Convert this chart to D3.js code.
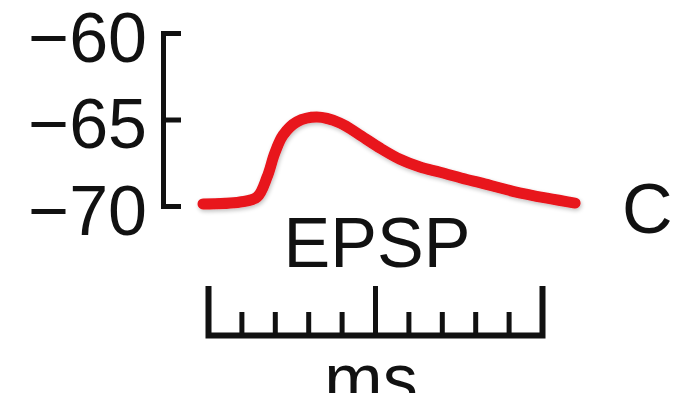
<!DOCTYPE html>
<meta charset="utf-8">
<svg width="686" height="406"></svg>
<script src="https://d3js.org/d3.v7.min.js"></script>
<style>
  body {
    margin: 0;
    background: #fff;
  }
  svg text {
    font-family: "Liberation Sans", Arial, sans-serif;
    fill: #111;
  }
  .axis path, .axis line {
    stroke: #111;
    fill: none;
  }
</style>
<script>
// membrane potential scale (mV)
var voltTicks = [-60, -65, -70];
// time scale bar ticks (ms)
var timeTicks = [0, 1, 2, 3, 4, 5, 6, 7, 8, 9, 10];
// EPSP trace
var traceTime = [-0.15, 0.96, 1.47, 1.77, 2.0, 2.25, 2.66, 3.26, 3.95, 4.55, 5.15, 5.75, 6.35, 6.95, 7.75, 8.14, 9.13, 10.15, 10.99];
var traceVolt = [-69.88, -69.77, -69.48, -68.32, -66.94, -65.9, -65.14, -64.86, -65.2, -65.9, -66.65, -67.3, -67.75, -68.05, -68.47, -68.65, -69.15, -69.55, -69.83];

var svg = d3.select("svg");

var x = d3.scaleLinear().domain([0, 10]).range([208, 542]);
var y = d3.scaleLinear().domain([-70, -60]).range([206, 33]);

var defs = svg.append("defs");
var blur = defs.append("filter").attr("id", "soft")
    .attr("x", "-10%").attr("y", "-30%").attr("width", "120%").attr("height", "160%");
blur.append("feGaussianBlur").attr("in", "SourceAlpha").attr("stdDeviation", 2).attr("result", "b");
blur.append("feOffset").attr("in", "b").attr("dx", 1).attr("dy", 2).attr("result", "o");
blur.append("feComponentTransfer").attr("in", "o").attr("result", "s")
  .append("feFuncA").attr("type", "linear").attr("slope", 0.25);
var merge = blur.append("feMerge");
merge.append("feMergeNode").attr("in", "s");
merge.append("feMergeNode").attr("in", "SourceGraphic");

defs.append("clipPath").attr("id", "cut")
  .append("rect").attr("x", 0).attr("y", 0).attr("width", 686).attr("height", 393);

// voltage axis, bracket style with labels on the left
var yAxis = svg.append("g")
    .attr("class", "axis")
    .attr("transform", "translate(163,0)")
    .call(d3.axisRight(y).tickValues(voltTicks).tickSize(18).tickSizeOuter(18));
yAxis.select(".domain").attr("stroke-width", 5);
yAxis.selectAll(".tick line").attr("stroke-width", 5);
yAxis.selectAll(".tick text")
    .attr("x", -16)
    .attr("dy", "0.4em")
    .attr("text-anchor", "end")
    .style("font-size", "70px")
    .attr("fill", "#111");

// trace
var line = d3.line()
    .x(function(d, i) { return x(traceTime[i]); })
    .y(function(d) { return y(d); })
    .curve(d3.curveCatmullRom.alpha(0.5));

svg.append("path")
    .datum(traceVolt)
    .attr("d", line)
    .attr("fill", "none")
    .attr("stroke", "#e8131b")
    .attr("stroke-width", 11)
    .attr("stroke-linecap", "round")
    .attr("stroke-linejoin", "round")
    .attr("filter", "url(#soft)");

svg.append("text")
    .attr("x", 377)
    .attr("y", 267)
    .attr("text-anchor", "middle")
    .style("font-size", "70px")
    .text("EPSP");

svg.append("text")
    .attr("x", 622)
    .attr("y", 233)
    .style("font-size", "70px")
    .text("C");

// time scale bar
var xAxis = svg.append("g")
    .attr("class", "axis")
    .attr("transform", "translate(0,335)")
    .call(d3.axisTop(x).tickValues(timeTicks).tickSize(23).tickSizeOuter(49).tickFormat(""));
xAxis.select(".domain").attr("stroke-width", 6);
xAxis.selectAll(".tick line")
    .attr("stroke-width", 5)
    .attr("y2", function(d) { return d === 5 ? -49 : -23; });

svg.append("text")
    .attr("x", 371)
    .attr("y", 403)
    .attr("text-anchor", "middle")
    .attr("clip-path", "url(#cut)")
    .style("font-size", "70px")
    .text("ms");
</script>
